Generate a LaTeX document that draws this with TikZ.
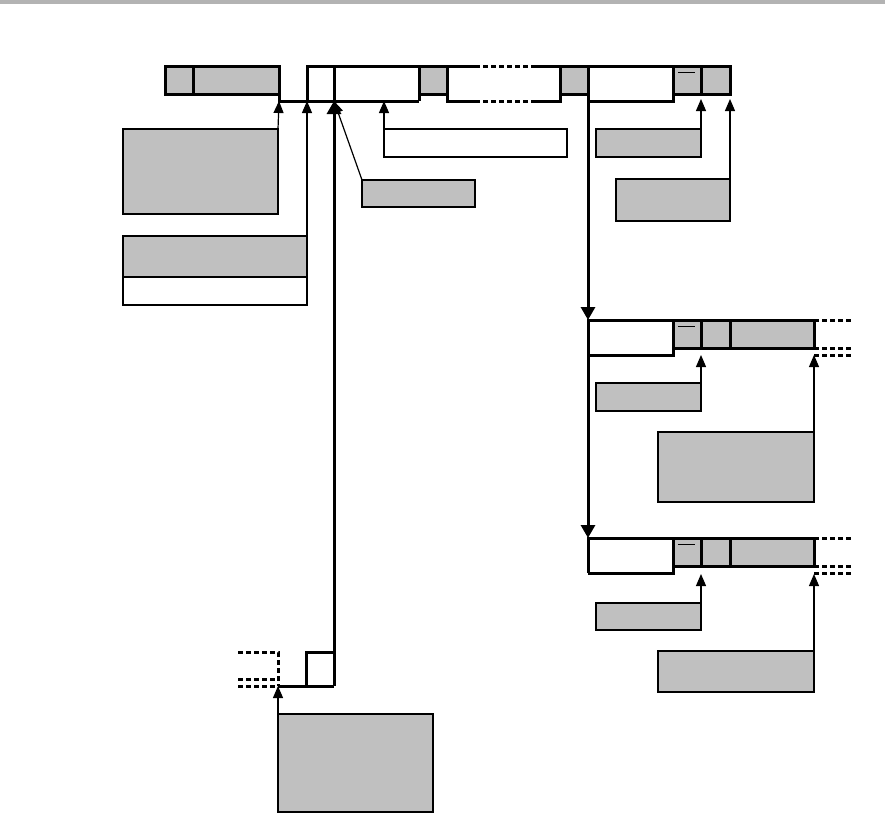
\documentclass[tikz,border=0pt]{standalone}
\usetikzlibrary{arrows.meta}
\definecolor{boxgray}{HTML}{C0C0C0}
\definecolor{bargray}{HTML}{B3B3B3}
\begin{document}
\begin{tikzpicture}[x=1pt,y=-1pt,
  lbl/.style={draw, line width=1.2pt, fill=boxgray, inner sep=0pt, outer sep=0pt, anchor=north west},
  lblw/.style={lbl, fill=white},
  thinarrow/.style={line width=1.2pt, -{Triangle[width=10pt,length=12pt]}},
  thickarrow/.style={line width=3pt, -{Triangle[width=14pt,length=13pt]}},
  struct/.style={line width=3pt, line join=miter},
  dashstruct/.style={line width=3pt, dash pattern=on 5pt off 3pt},
  tick/.style={line width=1pt}]
\useasboundingbox (0,0) rectangle (885,814);
\fill[bargray] (0,0) rectangle (885,4);

% ---------- top record ----------
\fill[boxgray] (165,66) rectangle (279,94);
\fill[boxgray] (419,66) rectangle (447,94);
\fill[boxgray] (560,66) rectangle (588,94);
\fill[boxgray] (673,66) rectangle (730,94);
\draw[struct] (165,66) rectangle (279,94);
\draw[struct] (193,66) -- (193,94);
\draw[struct] (279,94) -- (279,101) -- (419,101);
\draw[struct] (419,101) -- (419,66);
\draw[struct] (419,94) -- (447,94);
\draw[struct] (447,66) -- (447,101) -- (475,101);
\draw[struct] (307,101) -- (307,66) -- (475,66);
\draw[dashstruct] (475,66) -- (532,66);
\draw[dashstruct] (475,101) -- (532,101);
\draw[struct] (532,66) -- (730,66) -- (730,94) -- (673,94);
\draw[struct] (532,101) -- (560,101) -- (560,66);
\draw[struct] (560,94) -- (588,94);
\draw[struct] (588,101) -- (673,101) -- (673,66);
\draw[struct] (701,66) -- (701,94);
\draw[struct] (334,66) -- (334,101);
\draw[tick] (678,72) -- (695,72);

% ---------- lower records ----------
\foreach \dy in {0,218}{
  \fill[boxgray] (673,320+\dy) rectangle (814,348+\dy);
  \draw[struct] (588,355+\dy) -- (588,320+\dy) -- (814,320+\dy) -- (814,348+\dy) -- (673,348+\dy);
  \draw[struct] (673,320+\dy) -- (673,355+\dy) -- (588,355+\dy);
  \draw[struct] (701,320+\dy) -- (701,348+\dy);
  \draw[struct] (730,320+\dy) -- (730,348+\dy);
  \draw[tick] (678,326+\dy) -- (695,326+\dy);
  \draw[dashstruct] (814,320+\dy) -- (853,320+\dy);
  \draw[dashstruct] (814,348+\dy) -- (853,348+\dy);
  \draw[dashstruct] (814,355+\dy) -- (853,355+\dy);
}

% ---------- bottom-left record ----------
\draw[struct] (278,686) -- (334,686);
\draw[struct] (306,686) -- (306,652) -- (334,652);
\draw[dashstruct] (238,652) -- (278,652) -- (278,686);
\draw[dashstruct] (238,679) -- (278,679);
\draw[dashstruct] (238,686) -- (278,686);

% ---------- coordinates ----------
\coordinate (tA) at (279,101);
\coordinate (tB) at (307,101);
\coordinate (tC) at (334,101);
\coordinate (tD) at (384,101);
\coordinate (tG) at (701,99);
\coordinate (tH) at (730,99);
\coordinate (top588) at (588,66);
\coordinate (r1) at (588,320);
\coordinate (r2) at (588,538);
\coordinate (r1a) at (701,355);
\coordinate (r1b) at (814,355);
\coordinate (r2a) at (701,574);
\coordinate (r2b) at (814,574);
\coordinate (bl) at (278,686);
\coordinate (blthick) at (334,686);

% ---------- label boxes ----------
\node[lbl, minimum width=155pt, minimum height=85pt] (l1) at (123,129) {};
\node[lbl, minimum width=184pt, minimum height=41pt] (l2) at (123,236) {};
\node[lblw, minimum width=184pt, minimum height=28pt] (l2w) at (123,277) {};
\node[lblw, minimum width=183pt, minimum height=28pt] (l3) at (384,129) {};
\node[lbl, minimum width=113pt, minimum height=27pt] (l4) at (362,180) {};
\node[lbl, minimum width=105pt, minimum height=28pt] (l5) at (596,129) {};
\node[lbl, minimum width=114pt, minimum height=42pt] (l6) at (616,179) {};
\node[lbl, minimum width=105pt, minimum height=28pt] (l7) at (596,383) {};
\node[lbl, minimum width=156pt, minimum height=70pt] (l8) at (658,432) {};
\node[lbl, minimum width=105pt, minimum height=27pt] (l9) at (596,603) {};
\node[lbl, minimum width=156pt, minimum height=41pt] (l10) at (658,651) {};
\node[lbl, minimum width=155pt, minimum height=98pt] (l11) at (278,714) {};

% ---------- connectors ----------
\draw[thinarrow] (l1.north east) -- (tA);
\draw[thinarrow] (l2w.south east) -- (tB);
\draw[thinarrow] (l3.north west) -- (tD);
\draw[thinarrow] (l4.north west) -- (tC);
\draw[thinarrow] (l5.north east) -- (tG);
\draw[thinarrow] (l6.north east) -- (tH);
\draw[thinarrow] (l7.north east) -- (r1a);
\draw[thinarrow] (l8.north east) -- (r1b);
\draw[thinarrow] (l9.north east) -- (r2a);
\draw[thinarrow] (l10.north east) -- (r2b);
\draw[thinarrow] (l11.north west) -- (bl);
\draw[thickarrow] (blthick) -- (tC);
\draw[thickarrow] (top588) -- (r1);
\draw[thickarrow] (r1) -- (r2);
\end{tikzpicture}
\end{document}
